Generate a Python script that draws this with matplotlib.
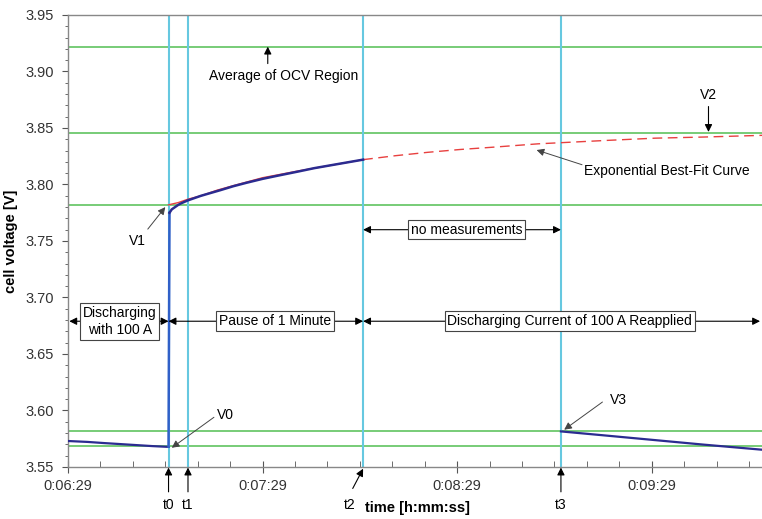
import matplotlib.pyplot as plt
from matplotlib.ticker import MultipleLocator, FuncFormatter

plt.rcParams['font.family'] = ['Liberation Sans', 'DejaVu Sans']

# time in seconds, voltage in V
t0, t1, t2, t3 = 420, 426, 480, 541
t_end = 603

# measured cell voltage
dis1_t = [389, 395, 400, 405, 410, 415, 420]
dis1_v = [3.573, 3.5722, 3.5712, 3.5703, 3.5694, 3.5685, 3.5678]

pause_t = [420, 420.3, 421, 422, 423, 424, 426, 428, 430, 433, 436, 440, 444, 449,
           454, 460, 465, 470, 475, 480]
pause_v = [3.568, 3.775, 3.778, 3.780, 3.782, 3.7835, 3.786, 3.788, 3.790, 3.7925, 3.795,
           3.7985, 3.8015, 3.805, 3.808, 3.8115, 3.8145, 3.817, 3.8195, 3.822]

dis2_t = [541, 555, 570, 585, 603]
dis2_v = [3.5815, 3.5778, 3.5738, 3.5698, 3.5653]

# exponential best-fit curve
fit_t = [420, 423, 426, 430, 435, 440, 449, 460, 470, 480, 490, 500, 510, 520, 534, 541,
         555, 570, 585, 603]
fit_v = [3.782, 3.784, 3.787, 3.790, 3.795, 3.799, 3.806, 3.812, 3.817, 3.822, 3.8255,
         3.8285, 3.831, 3.833, 3.836, 3.837, 3.839, 3.841, 3.842, 3.8435]

# horizontal reference levels
levels = [3.922, 3.846, 3.782, 3.582, 3.569]
events = [t0, t1, t2, t3]
event_names = ['t0', 't1', 't2', 't3']

green = '#6cc86c'
cyan = '#66c8e0'
navy = '#2b2b90'
red = '#e8403f'

fig = plt.figure(figsize=(7.62, 5.19), dpi=100)
ax = fig.add_axes([68 / 762, 1 - 467 / 519, 694 / 762, 452 / 519])

for lv in levels:
    ax.axhline(lv, color=green, lw=1.3, zorder=1)
for ev in events:
    ax.axvline(ev, color=cyan, lw=1.5, zorder=1)

n_solid = fit_t.index(t2) + 1
ax.plot(fit_t[:n_solid], fit_v[:n_solid], color=red, lw=1.0, zorder=2)
ax.plot(fit_t[n_solid - 1:], fit_v[n_solid - 1:], color=red, lw=1.0, ls=(0, (7, 4)), zorder=2)

ax.plot(dis1_t, dis1_v, color=navy, lw=1.6, zorder=3)
ax.plot(pause_t[:2], pause_v[:2], color='#3060c8', lw=1.8, zorder=3)
ax.plot(pause_t[1:], pause_v[1:], color=navy, lw=1.8, zorder=3)
ax.plot(dis2_t, dis2_v, color=navy, lw=1.6, zorder=3)

ax.set_xlim(389, t_end)
ax.set_ylim(3.55, 3.95)

ax.xaxis.set_major_locator(MultipleLocator(60, offset=29))
ax.xaxis.set_minor_locator(MultipleLocator(10, offset=9))
ax.yaxis.set_major_locator(MultipleLocator(0.05))
ax.yaxis.set_minor_locator(MultipleLocator(0.01))


def hms(x, pos):
    x = int(round(x))
    return '%d:%02d:%02d' % (x // 3600, (x % 3600) // 60, x % 60)


ax.xaxis.set_major_formatter(FuncFormatter(hms))
ax.yaxis.set_major_formatter(FuncFormatter(lambda v, p: '%.2f' % v))
ax.tick_params(axis='both', labelsize=10.5, colors='#333333')
ax.tick_params(axis='x', which='major', direction='inout', length=8, pad=5, color='#555555')
ax.tick_params(axis='x', which='minor', direction='in', length=4, color='#555555')
ax.tick_params(axis='y', which='major', direction='out', length=4, pad=6, color='#555555')
ax.tick_params(axis='y', which='minor', direction='out', length=2.5, color='#555555')
ax.spines['right'].set_visible(False)
for s in ['left', 'top', 'bottom']:
    ax.spines[s].set_color('#888888')
    ax.spines[s].set_linewidth(1.0)

ax.set_xlabel('time [h:mm:ss]', fontsize=10.5, fontweight='bold')
ax.xaxis.set_label_coords(0.504, -0.076)
ax.set_ylabel('cell voltage [V]', fontsize=10.5, fontweight='bold')
ax.yaxis.set_label_coords(-0.072, 0.5)

arrow = dict(arrowstyle='-|>', color='black', lw=0.8, mutation_scale=11, shrinkA=0, shrinkB=0)
thin = dict(arrowstyle='-|>', color='#444444', lw=0.7, mutation_scale=11, shrinkA=0, shrinkB=0)
both = dict(arrowstyle='<|-|>', color='black', lw=0.8, mutation_scale=11, shrinkA=0, shrinkB=0)
fs = 10

# text labels with arrows
ax.annotate('', xy=(450.6, 3.922), xytext=(450.6, 3.907), arrowprops=arrow)
ax.text(455.6, 3.896, 'Average of OCV Region', ha='center', va='center', fontsize=fs)

ax.annotate('', xy=(586.5, 3.8465), xytext=(586.5, 3.869), arrowprops=arrow)
ax.text(586.5, 3.879, 'V2', ha='center', va='center', fontsize=fs)

ax.annotate('', xy=(533.5, 3.8305), xytext=(547.5, 3.8175), arrowprops=thin)
ax.text(573.6, 3.812, 'Exponential Best-Fit Curve', ha='center', va='center', fontsize=fs)

ax.annotate('', xy=(419.0, 3.780), xytext=(413.6, 3.7605), arrowprops=thin)
ax.text(410.3, 3.750, 'V1', ha='center', va='center', fontsize=fs)

ax.annotate('', xy=(421.0, 3.567), xytext=(434.0, 3.594), arrowprops=thin)
ax.text(437.6, 3.596, 'V0', ha='center', va='center', fontsize=fs)

ax.annotate('', xy=(542.0, 3.583), xytext=(553.8, 3.6075), arrowprops=thin)
ax.text(558.6, 3.609, 'V3', ha='center', va='center', fontsize=fs)

# phase spans
box = dict(boxstyle='square,pad=0.2', fc='white', ec='#444444', lw=0.8)
y_row = 3.679
spans = [(389.4, t0, 405.0, 'Discharging\nwith 100 A'),
         (t0, t2, 452.8, 'Pause of 1 Minute'),
         (t2, t_end - 0.6, 543.7, 'Discharging Current of 100 A Reapplied')]
for a, b, c, label in spans:
    ax.annotate('', xy=(b, y_row), xytext=(a, y_row), arrowprops=both, zorder=4)
    ax.text(c, y_row, label, ha='center', va='center', fontsize=fs, bbox=box, zorder=5,
            linespacing=1.3)

ax.annotate('', xy=(t3, 3.760), xytext=(t2, 3.760), arrowprops=both, zorder=4)
ax.text(511.9, 3.760, 'no measurements', ha='center', va='center', fontsize=fs, bbox=box, zorder=5)

# event markers below the axis
for ev, name in zip(events, event_names):
    if name == 't2':
        ax.annotate('', xy=(ev, 3.5485), xytext=(ev - 3.2, 3.531), arrowprops=arrow,
                    annotation_clip=False)
        ax.text(ev - 4.2, 3.516, name, ha='center', va='center', fontsize=fs)
    else:
        ax.annotate('', xy=(ev, 3.5495), xytext=(ev, 3.528), arrowprops=arrow,
                    annotation_clip=False)
        ax.text(ev, 3.516, name, ha='center', va='center', fontsize=fs)

fig.savefig('out.png', dpi=100)
